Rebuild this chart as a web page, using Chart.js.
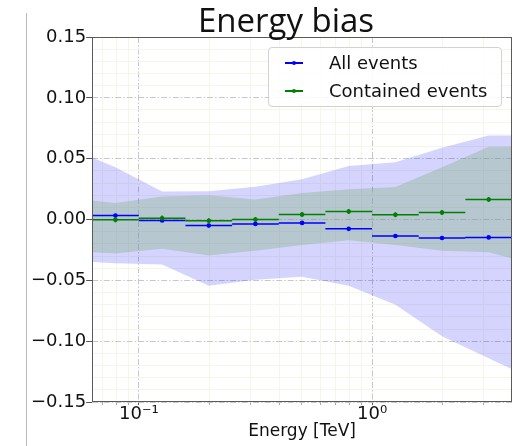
<!DOCTYPE html>
<html>
<head>
<meta charset="utf-8">
<script src="https://cdn.jsdelivr.net/npm/chart.js@4/dist/chart.umd.min.js"></script>
<style>
  html, body { margin: 0; padding: 0; background: #fff; }
  #wrap { position: relative; width: 517px; height: 446px; overflow: hidden; }
  #cv { position: absolute; left: 0; top: 0; }
  #frame { position: absolute; left: 26px; top: 13px; width: 1px; height: 433px; background: #b8b8b8; }
  #title { position: absolute; left: 136px; width: 300px; top: 3px; text-align: center;
           font-family: 'Open Sans', Lato, sans-serif; font-weight: 400; font-size: 33px; line-height: 33px; color: #111; }
  #legend { position: absolute; left: 268px; top: 47px; width: 234px; height: 60px; box-sizing: border-box;
            border: 1px solid #d2d2d2; border-radius: 4px; background: rgba(255,255,255,0.85);
            font-family: 'DejaVu Sans', sans-serif; font-size: 18px; color: #111; }
  .row { position: absolute; left: 0; width: 100%; height: 22px; }
  .sw { position: absolute; left: 16px; width: 18px; top: 10px; height: 1.5px; }
  .dot { position: absolute; left: 23px; top: 9px; width: 4px; height: 4px; border-radius: 50%; }
  .lab { position: absolute; left: 60px; top: 0; line-height: 22px; white-space: nowrap; }
</style>
</head>
<body>
<div id="wrap">
  <canvas id="cv" width="517" height="446"></canvas>
  <div id="frame"></div>
  <div id="title">Energy bias</div>
  <div id="legend"></div>
</div>
<script>
// ---------------- data ----------------
const seriesNames = ['All events', 'Contained events'];
const seriesColors = ['#0000ff', '#008000'];

// energy bin edges / centres [TeV]
const binEdges   = [0.0631, 0.1, 0.1585, 0.2512, 0.3981, 0.631, 1.0, 1.585, 2.512, 3.981];
const binCenters = [0.0794, 0.1259, 0.1995, 0.3162, 0.5012, 0.7943, 1.259, 1.995, 3.162];

// bias per bin
const allBias       = [0.0033, -0.0008, -0.0050, -0.0036, -0.0028, -0.0077, -0.0135, -0.0152, -0.0147];
const allErr        = [0.0010, 0.0010, 0.0010, 0.0010, 0.0010, 0.0010, 0.0010, 0.0010, 0.0010];
const containedBias = [-0.0003, 0.0010, -0.0010, 0.0000, 0.0041, 0.0066, 0.0039, 0.0058, 0.0165];
const containedErr  = [0.0020, 0.0023, 0.0020, 0.0020, 0.0020, 0.0020, 0.0020, 0.0020, 0.0020];

// resolution bands: evaluated at left edge, bin centres, right edge
const bandEnergy     = [0.0631, 0.0794, 0.1259, 0.1995, 0.3162, 0.5012, 0.7943, 1.259, 1.995, 3.162, 3.981];
const allUpper       = [0.051, 0.043, 0.023, 0.0232, 0.027, 0.033, 0.044, 0.047, 0.059, 0.069, 0.069];
const allLower       = [-0.035, -0.036, -0.037, -0.0545, -0.0495, -0.047, -0.0545, -0.070, -0.096, -0.114, -0.123];
const containedUpper = [0.0157, 0.0135, 0.019, 0.020, 0.0165, 0.0218, 0.0248, 0.0267, 0.043, 0.0598, 0.0598];
const containedLower = [-0.027, -0.028, -0.024, -0.0295, -0.0256, -0.021, -0.017, -0.021, -0.0256, -0.027, -0.032];

// axes
const xRange = [0.0631, 3.981];
const yRange = [-0.15, 0.15];
const xTickValues = [0.1, 1];
const xTickLabels = ['10\u207B\u00B9', '10\u2070'];
const yTickValues = [-0.15, -0.10, -0.05, 0.00, 0.05, 0.10, 0.15];
const yTickLabels = ['\u22120.15', '\u22120.10', '\u22120.05', '0.00', '0.05', '0.10', '0.15'];
const xTitle = 'Energy [TeV]';

// ---------------- helpers ----------------
function hSegments(vals) {
  const out = [];
  vals.forEach((v, i) => {
    out.push({ x: binEdges[i], y: v }, { x: binEdges[i + 1], y: v }, { x: binEdges[i + 1], y: null });
  });
  return out;
}
function vBars(vals, errs) {
  const out = [];
  vals.forEach((v, i) => {
    out.push({ x: binCenters[i], y: v - errs[i] }, { x: binCenters[i], y: v + errs[i] }, { x: binCenters[i], y: null });
  });
  return out;
}
function pts(vals) { return vals.map((v, i) => ({ x: binCenters[i], y: v })); }
function band(arr) { return bandEnergy.map((x, i) => ({ x: x, y: arr[i] })); }

function logTicks(scale, majorsOnly) {
  const t = [];
  const e0 = Math.floor(Math.log10(scale.min)), e1 = Math.ceil(Math.log10(scale.max));
  for (let e = e0; e <= e1; e++) {
    for (let m = 1; m <= 9; m++) {
      if (majorsOnly && m !== 1) continue;
      const v = +(m * Math.pow(10, e)).toPrecision(8);
      if (v > scale.min * 1.0001 && v < scale.max * 0.9999) t.push({ value: v, major: m === 1 });
    }
  }
  scale.ticks = t;
}
const isYMajor = v => Math.abs(Math.round(v * 100)) % 5 === 0;
const minorGrid = '#f6f6e8';
const majorGrid = '#c8c8c8';
const dashDot = [6, 2, 1.5, 2];

const lineDefaults = { pointRadius: 0, pointHoverRadius: 0, spanGaps: false, fill: false, tension: 0 };

const datasets = [
  Object.assign({ label: 'allUpper', data: band(allUpper), borderWidth: 0, borderColor: 'transparent',
    backgroundColor: 'rgba(0,0,255,0.17)', order: 20 }, lineDefaults, { fill: '+1' }),
  Object.assign({ label: 'allLower', data: band(allLower), borderWidth: 0, borderColor: 'transparent', order: 21 }, lineDefaults),
  Object.assign({ label: 'containedUpper', data: band(containedUpper), borderWidth: 0, borderColor: 'transparent',
    backgroundColor: 'rgba(140,180,140,0.42)', order: 18 }, lineDefaults, { fill: '+1' }),
  Object.assign({ label: 'containedLower', data: band(containedLower), borderWidth: 0, borderColor: 'transparent', order: 19 }, lineDefaults),

  Object.assign({ label: seriesNames[0] + ' bins', data: hSegments(allBias), borderColor: seriesColors[0], borderWidth: 1.5, order: 5 }, lineDefaults),
  Object.assign({ label: seriesNames[0] + ' err', data: vBars(allBias, allErr), borderColor: seriesColors[0], borderWidth: 1.5, order: 5 }, lineDefaults),
  { label: seriesNames[0], type: 'scatter', data: pts(allBias), showLine: false, pointRadius: 2.3, pointBorderWidth: 0,
    pointBackgroundColor: seriesColors[0], backgroundColor: seriesColors[0], order: 1 },

  Object.assign({ label: seriesNames[1] + ' bins', data: hSegments(containedBias), borderColor: seriesColors[1], borderWidth: 1.5, order: 4 }, lineDefaults),
  Object.assign({ label: seriesNames[1] + ' err', data: vBars(containedBias, containedErr), borderColor: seriesColors[1], borderWidth: 1.5, order: 4 }, lineDefaults),
  { label: seriesNames[1], type: 'scatter', data: pts(containedBias), showLine: false, pointRadius: 2.3, pointBorderWidth: 0,
    pointBackgroundColor: seriesColors[1], backgroundColor: seriesColors[1], order: 0 }
];

const spines = {
  id: 'spines',
  afterDatasetsDraw(chart) {
    const { ctx, chartArea: a } = chart;
    ctx.save();
    ctx.strokeStyle = '#5a5a5a';
    ctx.lineWidth = 1;
    ctx.strokeRect(Math.round(a.left) + 0.5, Math.round(a.top) + 0.5,
                   Math.round(a.right - a.left) - 1, Math.round(a.bottom - a.top) - 1);
    ctx.restore();
  }
};

Chart.defaults.font.family = "'DejaVu Sans', sans-serif";
Chart.defaults.color = '#111';

new Chart(document.getElementById('cv'), {
  type: 'line',
  data: { datasets },
  plugins: [spines],
  options: {
    responsive: false,
    animation: false,
    devicePixelRatio: 1,
    layout: { padding: { left: 31, right: 5, top: 37, bottom: 6 } },
    plugins: { legend: { display: false }, tooltip: { enabled: false }, title: { display: false } },
    scales: {
      x: {
        type: 'logarithmic', min: xRange[0], max: xRange[1], position: 'bottom',
        afterBuildTicks: s => logTicks(s, false),
        border: { display: false },
        grid: {
          color: c => (c.tick && c.tick.major) ? 'transparent' : minorGrid,
          tickColor: c => (c.tick && c.tick.major) ? '#555' : '#aaa',
          tickLength: 3, lineWidth: 1
        },
        ticks: {
          autoSkip: false, maxRotation: 0, minRotation: 0, padding: 0,
          font: { size: 18, lineHeight: 1 }, color: '#111',
          callback: (v) => {
            const k = xTickValues.findIndex(t => Math.abs(t - v) / t < 1e-6);
            return k >= 0 ? xTickLabels[k] : '';
          }
        },
        title: { display: true, text: xTitle, font: { size: 17, lineHeight: 1 }, padding: { top: 0, bottom: 0 }, color: '#111' }
      },
      x2: {
        type: 'logarithmic', min: xRange[0], max: xRange[1], position: 'top',
        afterBuildTicks: s => logTicks(s, true),
        border: { display: false, dash: dashDot },
        grid: { color: majorGrid, drawTicks: false, lineWidth: 1 },
        ticks: { display: false }
      },
      y: {
        type: 'linear', min: yRange[0], max: yRange[1], position: 'left',
        border: { display: false },
        grid: {
          color: c => (c.tick && isYMajor(c.tick.value)) ? 'transparent' : minorGrid,
          tickColor: c => (c.tick && isYMajor(c.tick.value)) ? '#555' : 'transparent',
          tickLength: 6, lineWidth: 1
        },
        ticks: {
          stepSize: 0.01, autoSkip: false, padding: 0, font: { size: 18 }, color: '#111',
          callback: (v) => {
            const k = yTickValues.findIndex(t => Math.abs(t - v) < 1e-6);
            return k >= 0 ? yTickLabels[k] : '';
          }
        }
      },
      y2: {
        type: 'linear', min: yRange[0], max: yRange[1], position: 'right',
        border: { display: false, dash: dashDot },
        grid: { color: majorGrid, drawTicks: false, lineWidth: 1 },
        ticks: { display: false, stepSize: 0.05 }
      }
    }
  }
});

// legend built from series names / colours
const lg = document.getElementById('legend');
seriesNames.forEach((name, i) => {
  const row = document.createElement('div');
  row.className = 'row';
  row.style.top = (4 + i * 28) + 'px';
  row.innerHTML = '<div class="sw" style="background:' + seriesColors[i] + '"></div>' +
                  '<div class="dot" style="background:' + seriesColors[i] + '"></div>' +
                  '<div class="lab">' + name + '</div>';
  lg.appendChild(row);
});
</script>
</body>
</html>
